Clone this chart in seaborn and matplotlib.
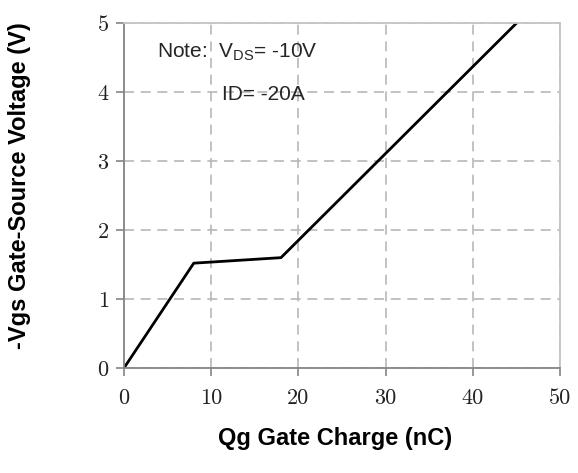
import matplotlib
matplotlib.use("Agg")
import matplotlib.pyplot as plt
import seaborn as sns
import pandas as pd

qg_nc = [0, 8, 18, 45]
vgs_v = [0, 1.52, 1.60, 5.0]
x_ticks = [0, 10, 20, 30, 40, 50]
y_ticks = [0, 1, 2, 3, 4, 5]

sns.set_theme(style="white")
plt.rcParams['font.family'] = ['Liberation Sans', 'DejaVu Sans']

df = pd.DataFrame({"qg": qg_nc, "vgs": vgs_v})

fig = plt.figure(figsize=(5.78, 4.73), dpi=100)
ax = fig.add_axes([0.2145, 0.222, 0.7545, 0.729])

sns.lineplot(data=df, x="qg", y="vgs", ax=ax, color="black", linewidth=2.0, estimator=None, sort=False)

ax.set_xlim(0, 50)
ax.set_ylim(0, 5)
ax.set_xticks(x_ticks)
ax.set_yticks(y_ticks)
ax.set_xticklabels([str(t) for t in x_ticks], family=['cmr10', 'Liberation Serif'], fontsize=16)
ax.set_yticklabels([str(t) for t in y_ticks], family=['cmr10', 'Liberation Serif'], fontsize=16)

ax.grid(True, linestyle=(0, (6, 4)), color='#b8b8b8', linewidth=1.2)
ax.set_axisbelow(True)

for s in ['left', 'bottom']:
    ax.spines[s].set_color('#858585')
    ax.spines[s].set_linewidth(1.3)
for s in ['top', 'right']:
    ax.spines[s].set_color('#c4c4c4')
    ax.spines[s].set_linewidth(1.3)

ax.tick_params(axis='both', direction='out', length=6, width=1.2, color='#858585',
               labelcolor='#222222', bottom=True, left=True)
ax.tick_params(axis='x', pad=9)
ax.tick_params(axis='y', pad=5)

ax.set_xlabel("Qg Gate Charge (nC)", fontsize=17, fontweight='bold', color='black')
ax.set_ylabel("-Vgs Gate-Source Voltage (V)", fontsize=17, fontweight='bold', color='black')
ax.xaxis.set_label_coords(0.485, -0.17)
ax.yaxis.set_label_coords(-0.213, 0.53)

ax.text(3.8, 4.58, "Note:  V$_{\\mathregular{DS}}$= -10V", fontsize=15, va='center', ha='left')
ax.text(11.2, 3.97, "ID= -20A", fontsize=15, va='center', ha='left')

fig.savefig("out.png", dpi=100)
